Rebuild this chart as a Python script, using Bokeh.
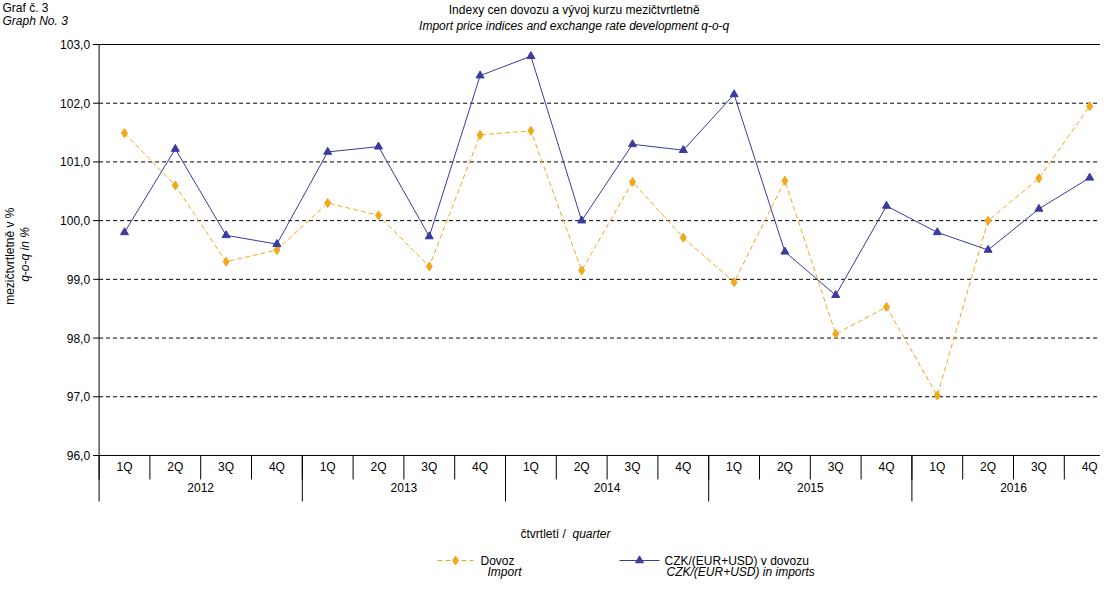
import math
from bokeh.plotting import figure
from bokeh.models import Range1d
from bokeh.core.properties import value
from bokeh.embed import file_html
from bokeh.resources import INLINE

years = ["2012", "2013", "2014", "2015", "2016"]
quarters = ["1Q", "2Q", "3Q", "4Q"]
dovoz = [101.49, 100.6, 99.3, 99.5,
         100.3, 100.09, 99.22, 101.46,
         101.53, 99.15, 100.66, 99.71,
         98.95, 100.68, 98.07, 98.53,
         97.02, 100.0, 100.72, 101.95]
czk = [99.8, 101.22, 99.75, 99.6,
       101.17, 101.26, 99.73, 102.47,
       102.8, 100.0, 101.3, 101.2,
       102.15, 99.47, 98.73, 100.25,
       99.8, 99.5, 100.2, 100.73]
y_ticks = [96, 97, 98, 99, 100, 101, 102, 103]

FONT = "Liberation Sans"
ORANGE = "#f0a81c"
BLUE = "#3a3aa0"
n = len(dovoz)
xs = list(range(n))
W, H = 1100, 579
PX_X, X0 = 50.8, 124.0
PX_Y, YTOP = 58.71, 44.0
ymax = y_ticks[-1] + YTOP / PX_Y
ymin = ymax - H / PX_Y

def X(c):
    return (c - X0) / PX_X

def Y(c):
    return ymax - c / PX_Y

p = figure(width=W, height=H, output_backend="svg", toolbar_location=None,
           x_range=Range1d(X(0), X(W)), y_range=Range1d(ymin, ymax),
           min_border=0, x_axis_type=None, y_axis_type=None)
p.outline_line_color = None
p.grid.visible = False

left, right = -0.5, n - 0.5
dx = 1 / PX_X
dy = 1 / PX_Y
inner = y_ticks[1:-1]
p.segment(x0=[left] * len(inner), x1=[right] * len(inner), y0=inner, y1=inner,
          line_color="black", line_dash="4 3", line_width=1)
p.segment(x0=[left, left], x1=[right, right], y0=[y_ticks[0], y_ticks[-1]], y1=[y_ticks[0], y_ticks[-1]],
          line_color="black", line_width=1)
p.segment(x0=[left], x1=[left], y0=[y_ticks[0]], y1=[y_ticks[-1]], line_color="black")
p.segment(x0=[left - 6 * dx] * len(y_ticks), x1=[left] * len(y_ticks), y0=y_ticks, y1=y_ticks, line_color="black")
p.text(x=[left - 9 * dx] * len(y_ticks), y=y_ticks,
       text=[f"{t:.1f}".replace(".", ",") for t in y_ticks],
       text_font=value(FONT), text_font_size="12px", text_align="right", text_baseline="middle")
qb = [i - 0.5 for i in range(n + 1)]
yb = [i * 4 - 0.5 for i in range(len(years) + 1)]
p.segment(x0=qb, x1=qb, y0=[y_ticks[0]] * len(qb), y1=[y_ticks[0] - 24 * dy] * len(qb), line_color="black")
p.segment(x0=yb, x1=yb, y0=[y_ticks[0]] * len(yb), y1=[y_ticks[0] - 46 * dy] * len(yb), line_color="black")
p.text(x=xs, y=[Y(466)] * n, text=[quarters[i % 4] for i in xs], text_font=value(FONT),
       text_font_size="12px", text_align="center", text_baseline="middle")
p.text(x=[k * 4 + 1.5 for k in range(len(years))], y=[Y(487)] * len(years), text=years,
       text_font=value(FONT), text_font_size="12px", text_align="center", text_baseline="middle")

p.line(xs, dovoz, line_color=ORANGE, line_dash="5 3", line_width=1)
p.scatter(xs, dovoz, marker="diamond", size=9, color=ORANGE)
p.line(xs, czk, line_color=BLUE, line_width=1)
p.scatter(xs, czk, marker="triangle", size=8, color=BLUE)

def txt(cx, cy, t, style="normal", align="left", angle=0):
    p.text(x=[X(cx)], y=[Y(cy)], text=[t], text_font=value(FONT), text_font_style=style,
           text_font_size="12px", text_align=align, text_baseline="middle", angle=angle)

txt(2, 7, "Graf č. 3")
txt(2, 20, "Graph No. 3", "italic")
txt(577, 9, "Indexy cen dovozu  a vývoj  kurzu mezičtvrtletně", align="center")
txt(577, 25, "Import price indices and exchange  rate development  q-o-q", "italic", align="center")
txt(9, 254, "mezičtvrtletně  v %", align="center", angle=math.pi / 2)
txt(24, 254, "q-o-q in %", "italic", align="center", angle=math.pi / 2)
txt(572, 533, "čtvrtletí  / ", align="right")
txt(572, 533, "quarter", "italic")

p.line([X(437), X(473)], [Y(560)] * 2, line_color=ORANGE, line_dash="5 3")
p.scatter([X(455)], [Y(560)], marker="diamond", size=9, color=ORANGE)
txt(480, 560, "Dovoz")
txt(487, 571, "Import", "italic")
p.line([X(619), X(659)], [Y(560)] * 2, line_color=BLUE)
p.scatter([X(639)], [Y(560)], marker="triangle", size=8, color=BLUE)
txt(664, 560, "CZK/(EUR+USD) v dovozu")
txt(666, 571, "CZK/(EUR+USD) in imports", "italic")

open("out.html", "w").write(file_html(p, INLINE))
